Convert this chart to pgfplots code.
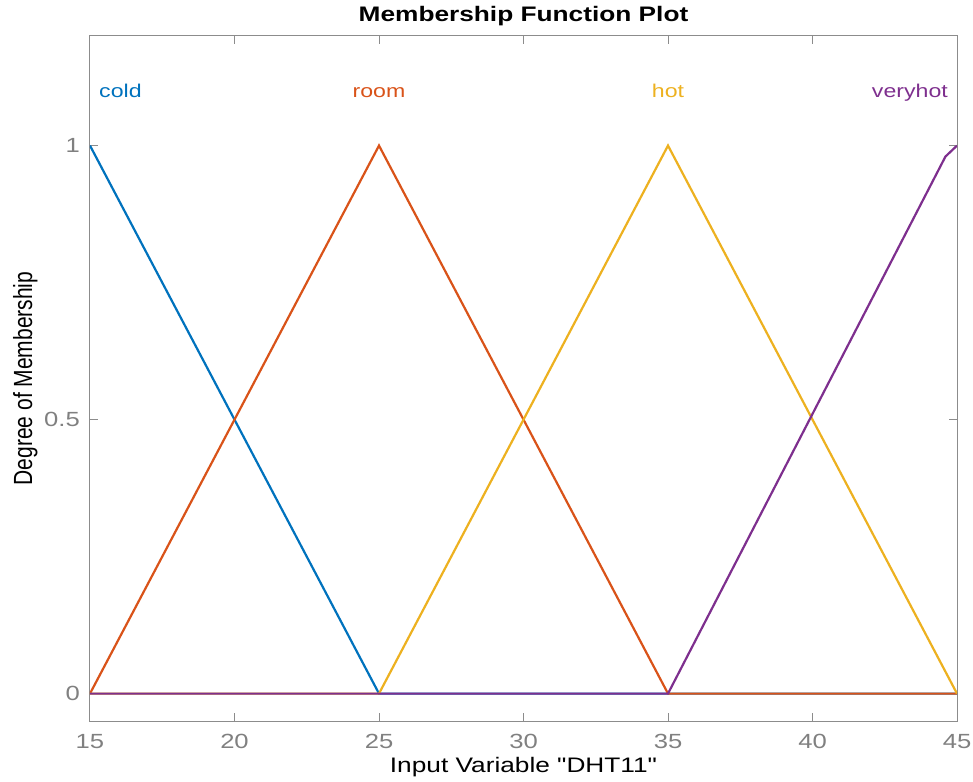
\documentclass[border=0pt]{standalone}
\usepackage{fontspec}
\setmainfont{Liberation Sans}[FakeStretch=1.25, Ligatures=TeXOff]
\usepackage{graphicx}
\usepackage{pgfplots}
\pgfplotsset{compat=1.18}
\definecolor{mblue}{rgb}{0,0.447,0.741}
\definecolor{morange}{rgb}{0.85,0.325,0.098}
\definecolor{myellow}{rgb}{0.929,0.694,0.125}
\definecolor{mpurple}{rgb}{0.494,0.184,0.556}
\definecolor{axgray}{rgb}{0.55,0.55,0.55}
\definecolor{labgray}{rgb}{0.5,0.5,0.5}
\begin{document}
\begin{tikzpicture}
\begin{axis}[
  scale only axis, width=867pt, height=685pt,
  xmin=15, xmax=45, ymin=-0.05, ymax=1.2,
  xtick={15,20,...,45}, ytick={0,0.5,1},
  tick align=inside, major tick length=8pt,
  xtick pos=both, ytick pos=both,
  axis line style={draw=axgray, line width=1pt},
  every tick/.style={axgray, line width=1pt},
  /pgf/number format/assume math mode=true,
  tick label style={font=\fontsize{20.5}{24}\selectfont, text=labgray, inner sep=0pt},
  xticklabel style={anchor=base, yshift=-27pt},
  yticklabel style={anchor=east, xshift=-10pt},
  title={Membership Function Plot},
  title style={font=\bfseries\fontsize{21}{25}\selectfont, at={(axis description cs:0.5,1)}, anchor=base, yshift=8pt},
  xlabel={Input Variable "DHT11"},
  xlabel style={font=\fontsize{21}{25}\selectfont, at={(axis description cs:0.5,-0.0759)}, anchor=base, inner sep=0pt},
  ylabel={\fontspec{Liberation Sans}\scalebox{1}[1.25]{Degree of Membership}},
  ylabel style={font=\fontsize{21}{25}\selectfont, at={(axis description cs:-0.0669,0.5)}, anchor=base, inner sep=0pt},
  every axis plot/.append style={line width=2.2pt},
]
\coordinate (ll) at (rel axis cs:0,0);
\coordinate (ur) at (rel axis cs:1,1);
\addplot[mblue] coordinates {(15,1) (25,0) (45,0)};
\addplot[morange] coordinates {(15,0) (25,1) (35,0) (45,0)};
\addplot[myellow] coordinates {(15,0) (25,0) (35,1) (45,0)};
\addplot[mpurple] coordinates {(15,0) (35,0) (44.6,0.98) (45,1)};
\node[anchor=base west, text=mblue, font=\fontsize{18.5}{22}\selectfont, inner sep=0pt, xshift=9pt] at (axis cs:15,1.0876) {cold};
\node[anchor=base, text=morange, font=\fontsize{18.5}{22}\selectfont, inner sep=0pt] at (axis cs:25,1.0876) {room};
\node[anchor=base, text=myellow, font=\fontsize{18.5}{22}\selectfont, inner sep=0pt] at (axis cs:35,1.0876) {hot};
\node[anchor=base east, text=mpurple, font=\fontsize{18.5}{22}\selectfont, inner sep=0pt, xshift=-9pt] at (axis cs:45,1.0876) {veryhot};
\end{axis}
\path[use as bounding box] ([shift={(-90pt,-60pt)}]ll) rectangle ([shift={(16pt,36pt)}]ur);
\end{tikzpicture}
\end{document}
